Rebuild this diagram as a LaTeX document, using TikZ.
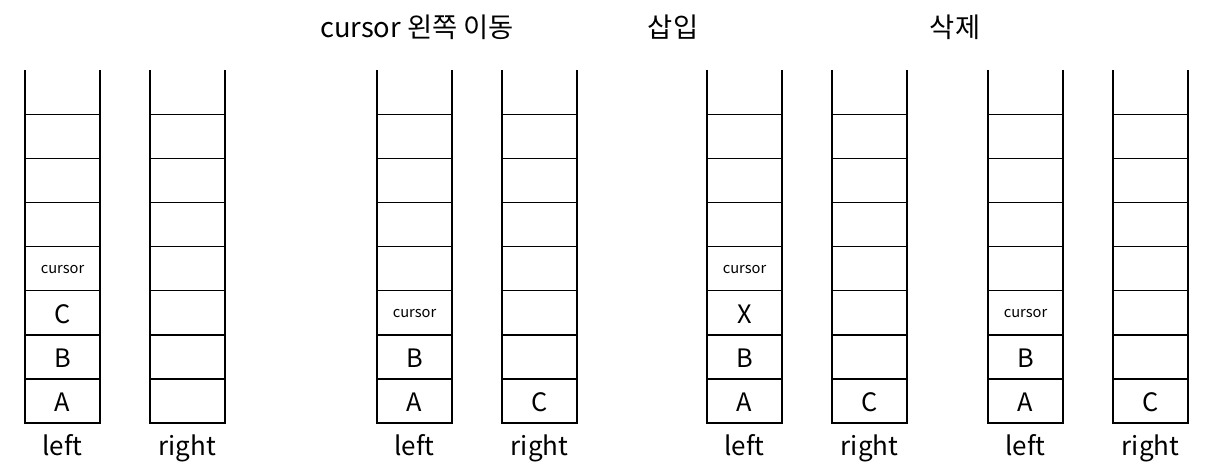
\documentclass[tikz,border=0pt]{standalone}
\usepackage{fontspec}
\setmainfont{Noto Sans CJK KR}
\usetikzlibrary{positioning}

% one stack: open top, 8 cells
\newcommand{\drawstack}[1]{%
  \draw (#1,70) -- (#1,423) -- (#1+75,423) -- (#1+75,70);
  \foreach \k in {1,...,7}
    \draw (#1,423-44.1*\k) -- (#1+75,423-44.1*\k);
}

\begin{document}
\begin{tikzpicture}[
  x=0.75pt, y=-0.75pt,
  line width=1.1pt,
  every node/.style={inner sep=0pt},
  title/.style={font=\fontsize{20.5}{24}\selectfont},
  item/.style={font=\fontsize{19}{23}\selectfont},
  cur/.style={font=\fontsize{11}{13}\selectfont},
  stacklabel/.style={font=\fontsize{19.5}{23}\selectfont,anchor=base}
  ]
  \useasboundingbox (0,0) rectangle (1228,473);

  \node[title] (move) at (417,27) {cursor 왼쪽 이동};
  \node[title] (ins) at (673,27) {삽입};
  \node[title] (del) at (955,27) {삭제};

  \drawstack{25}
  \drawstack{150}
  \drawstack{377}
  \drawstack{502}
  \drawstack{707}
  \drawstack{832}
  \drawstack{988}
  \drawstack{1113}

  \node[stacklabel] (L1t) at (62.5,456) {left};
  \node[stacklabel] (R1t) at (187.5,456) {right};
  \node[stacklabel] (L2t) at (414.5,456) {left};
  \node[stacklabel] (R2t) at (539.5,456) {right};
  \node[stacklabel] (L3t) at (744.5,456) {left};
  \node[stacklabel] (R3t) at (869.5,456) {right};
  \node[stacklabel] (L4t) at (1025.5,456) {left};
  \node[stacklabel] (R4t) at (1150.5,456) {right};

  % first pair
  \node[item] (L1a) at (62.5,402) {A};
  \node[item] (L1b) at (62.5,358) {B};
  \node[item] (L1c) at (62.5,314) {C};
  \node[cur] (L1cur) at (62.5,270) {cursor};

  % cursor moved left
  \node[item] (L2a) at (414.5,402) {A};
  \node[item] (L2b) at (414.5,358) {B};
  \node[cur] (L2cur) at (414.5,314) {cursor};
  \node[item] (R2c) at (539.5,402) {C};

  % insert
  \node[item] (L3a) at (744.5,402) {A};
  \node[item] (L3b) at (744.5,358) {B};
  \node[item] (L3x) at (744.5,314) {X};
  \node[cur] (L3cur) at (744.5,270) {cursor};
  \node[item] (R3c) at (869.5,402) {C};

  % delete
  \node[item] (L4a) at (1025.5,402) {A};
  \node[item] (L4b) at (1025.5,358) {B};
  \node[cur] (L4cur) at (1025.5,314) {cursor};
  \node[item] (R4c) at (1150.5,402) {C};
\end{tikzpicture}
\end{document}
